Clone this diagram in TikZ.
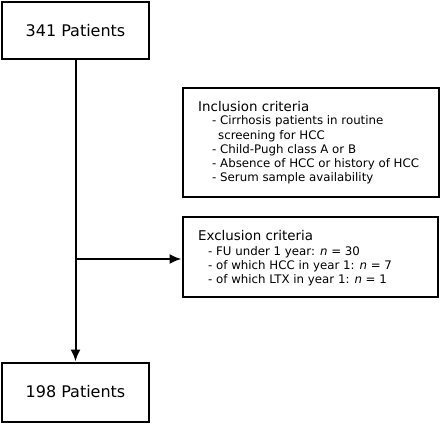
\documentclass[tikz,border=0pt]{standalone}
\usepackage{fontspec}
\setmainfont{DejaVu Sans}
\usetikzlibrary{arrows.meta}
\begin{document}
\begin{tikzpicture}[x=1pt,y=-1pt,
  box/.style={draw=black,line width=2pt,inner sep=0pt},
  bigtxt/.style={font=\fontsize{16}{19}\selectfont,inner sep=0pt},
  head/.style={font=\fontsize{13.4}{16}\selectfont,inner sep=0pt,anchor=base west},
  item/.style={font=\fontsize{11.8}{14}\selectfont,inner sep=0pt,anchor=base west},
  arr/.style={line width=2pt,-{Latex[length=12pt,width=10pt]}}]
\useasboundingbox (0,0) rectangle (440,424);
\fill[white] (0,0) rectangle (440,424);
% boxes
\node[box,minimum width=147pt,minimum height=57pt] (top) at (75.5,30.5) {};
\node[box,minimum width=147pt,minimum height=59pt] (bot) at (75.5,392) {};
\node[box,minimum width=256pt,minimum height=109pt] (incl) at (310.5,142) {};
\node[box,minimum width=255pt,minimum height=80pt] (excl) at (310,256.5) {};
% texts
\node[bigtxt] (toptxt) at (top.center) {341 Patients};
\node[bigtxt] (bottxt) at (bot.center) {198 Patients};
\node[head] (ih) at (198,111) {Inclusion criteria};
\node[item] (i1) at (212,124.8) {- Cirrhosis patients in routine};
\node[item] (i1b) at (218,139) {screening for HCC};
\node[item] (i2) at (212,153.2) {- Child-Pugh class A or B};
\node[item] (i3) at (212,167.4) {- Absence of HCC or history of HCC};
\node[item] (i4) at (212,181.6) {- Serum sample availability};
\node[head] (eh) at (198,240) {Exclusion criteria};
\node[item] (e1) at (208,255.3) {- FU under 1 year: \textit{n} = 30};
\node[item] (e2) at (208,269.3) {- of which HCC in year 1: \textit{n} = 7};
\node[item] (e3) at (208,283.3) {- of which LTX in year 1: \textit{n} = 1};
% connectors
\coordinate (j) at (75.5,259);
\draw[arr] (top.south) -- (bot.north);
\draw[arr] (j) -- (j -| excl.west);
\end{tikzpicture}
\end{document}
